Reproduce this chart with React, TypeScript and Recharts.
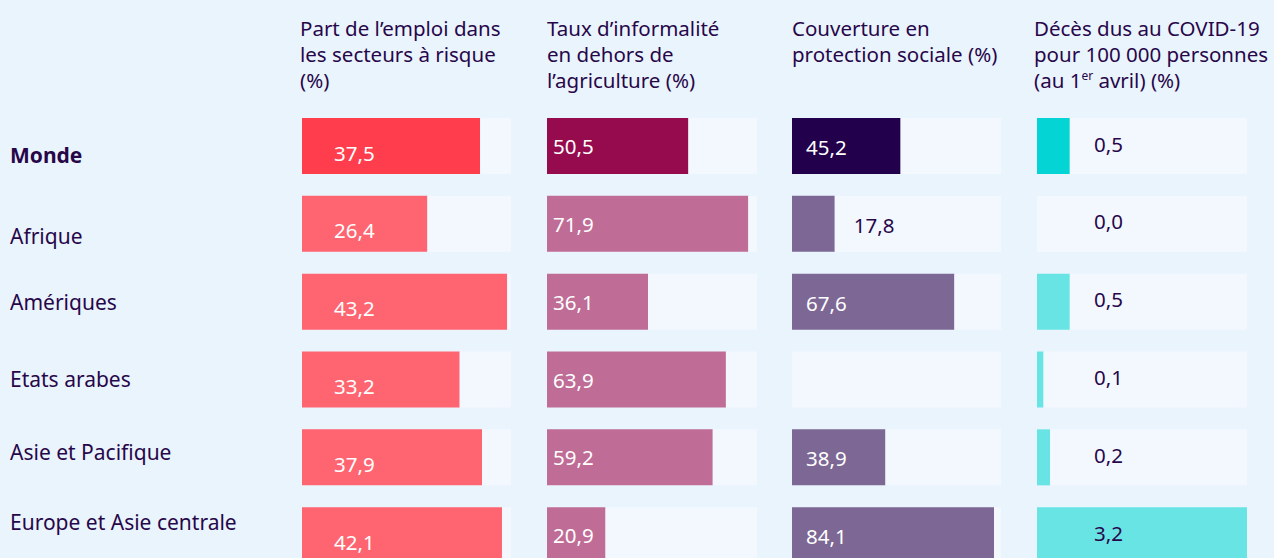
import React from 'react';
import { BarChart, Bar, XAxis, YAxis, Cell, LabelList } from 'recharts';

const regions = ['Monde', 'Afrique', 'Amériques', 'Etats arabes', 'Asie et Pacifique', 'Europe et Asie centrale'];
const emploiRisque = [37.5, 26.4, 43.2, 33.2, 37.9, 42.1];
const informalite = [50.5, 71.9, 36.1, 63.9, 59.2, 20.9];
const protectionSociale = [45.2, 17.8, 67.6, null, 38.9, 84.1];
const decesCovid = [0.5, 0.0, 0.5, 0.1, 0.2, 3.2];

const BG = '#eaf4fd';
const TRACK = '#f3f8ff';
const INK = '#27074a';
const FONT = '"Noto Sans", "Open Sans", sans-serif';

// small vertical nudges for the row labels (the original isn't perfectly aligned)
const ROW_NUDGE = [9.5, 12.5, 0, 0, -5.5, -13.5];

const fmt = (v: number) => v.toFixed(1).replace('.', ',');

type Col = {
  values: (number | null)[];
  max: number;
  left: number;
  width: number;
  strong: string;
  light: string;
  label: 'c1' | 'c2' | 'c3' | 'c4';
};

const columns: Col[] = [
  { values: emploiRisque, max: 44, left: 302, width: 209, strong: '#ff3d4c', light: '#fe6570', label: 'c1' },
  { values: informalite, max: 75, left: 547, width: 210, strong: '#960b4e', light: '#bf6c96', label: 'c2' },
  { values: protectionSociale, max: 87, left: 792, width: 209, strong: '#23004c', light: '#7d6795', label: 'c3' },
  { values: decesCovid, max: 3.2, left: 1037, width: 210, strong: '#05d4d4', light: '#69e4e4', label: 'c4' },
];

const headers = [
  { left: 300, lines: ['Part de l’emploi dans', 'les secteurs à risque', '(%)'] },
  { left: 547, lines: ['Taux d’informalité', 'en dehors de', 'l’agriculture (%)'] },
  { left: 792, lines: ['Couverture en', 'protection sociale (%)'] },
];

const TOP = 107;
const PLOT_H = 467;
const HEAD_SIZE = 20.5;
const VALUE_SIZE = 20.5;

const RowTick = (props: any) => {
  const { y, payload, index } = props;
  return (
    <text
      x={10}
      y={y + (ROW_NUDGE[index] || 0)}
      dominantBaseline="central"
      textAnchor="start"
      fill={INK}
      fontFamily={FONT}
      fontSize={21}
      fontWeight={index === 0 ? 700 : 400}
    >
      {payload.value}
    </text>
  );
};

// value labels: drawn by the coloured bar when it has a length, otherwise by the track bar.
// The LabelList reads the region name, so the row is found even when zero bars are skipped.
const makeLabel = (col: Col, origin: number, onTrack: boolean) => (props: any) => {
  const { x, y, width, height } = props;
  const row = regions.indexOf(String(props.value));
  const value = col.values[row];
  if (row < 0 || value === null || value === undefined) return null;
  if (onTrack !== (value === 0)) return null;
  const cy = Number(y) + Number(height) / 2;
  const barEnd = onTrack ? Number(x) : Number(x) + Number(width);
  let tx = origin;
  let dy = 0;
  let fill = '#ffffff';
  if (col.label === 'c1') {
    tx += 32;
    dy = 6.5;
  } else if (col.label === 'c2') {
    tx += 6;
  } else if (col.label === 'c3') {
    if (barEnd - origin < 45) {
      tx = barEnd + 19;
      fill = INK;
    } else {
      tx += 14;
    }
    dy = 1;
  } else {
    tx += 57;
    dy = -2.5;
    fill = INK;
  }
  return (
    <text x={tx} y={cy + dy} dominantBaseline="central" textAnchor="start" fill={fill} fontFamily={FONT} fontSize={VALUE_SIZE}>
      {fmt(value)}
    </text>
  );
};

export default function App() {
  return (
    <div
      style={{
        position: 'absolute',
        left: 0,
        top: 0,
        width: 1274,
        height: 558,
        background: BG,
        overflow: 'hidden',
        fontFamily: FONT,
        color: INK,
      }}
    >
      {headers.map((h) => (
        <div key={h.left} style={{ position: 'absolute', left: h.left, top: 15, fontSize: HEAD_SIZE, lineHeight: '26px', whiteSpace: 'nowrap' }}>
          {h.lines.map((l) => (
            <div key={l}>{l}</div>
          ))}
        </div>
      ))}
      <div style={{ position: 'absolute', left: 1034, top: 15, fontSize: HEAD_SIZE, lineHeight: '26px', whiteSpace: 'nowrap' }}>
        <div>Décès dus au COVID-19</div>
        <div>pour 100 000 personnes</div>
        <div>
          (au 1<sup style={{ fontSize: 12, lineHeight: 0 }}>er</sup> avril) (%)
        </div>
      </div>

      {columns.map((col, ci) => {
        const data = regions.map((r, i) => ({
          region: r,
          value: col.values[i] ?? 0,
          rest: col.max - (col.values[i] ?? 0),
        }));
        const first = ci === 0;
        const chartLeft = first ? 0 : col.left;
        const chartWidth = first ? col.left + col.width : col.width;
        const origin = first ? col.left : 0;
        return (
          <div key={ci} style={{ position: 'absolute', left: chartLeft, top: 0 }}>
            <BarChart
              width={chartWidth}
              height={TOP + PLOT_H}
              data={data}
              layout="vertical"
              margin={{ top: TOP, right: 0, bottom: 0, left: 0 }}
              barCategoryGap={22}
            >
              <XAxis type="number" domain={[0, col.max]} hide allowDataOverflow />
              <YAxis
                type="category"
                dataKey="region"
                width={first ? col.left : 0}
                hide={!first}
                axisLine={false}
                tickLine={false}
                tick={<RowTick />}
                interval={0}
              />
              <Bar dataKey="value" stackId="s" barSize={56} isAnimationActive={false}>
                {data.map((_, i) => (
                  <Cell key={i} fill={i === 0 ? col.strong : col.light} />
                ))}
                <LabelList dataKey="region" content={makeLabel(col, origin, false)} />
              </Bar>
              <Bar dataKey="rest" stackId="s" barSize={56} fill={TRACK} isAnimationActive={false}>
                <LabelList dataKey="region" content={makeLabel(col, origin, true)} />
              </Bar>
            </BarChart>
          </div>
        );
      })}
    </div>
  );
}
